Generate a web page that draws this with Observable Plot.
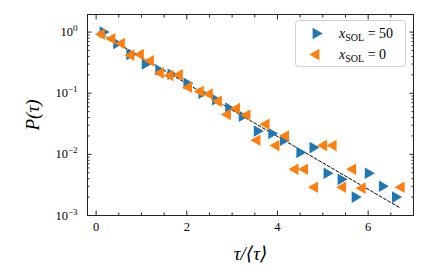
<!DOCTYPE html>
<html><head><meta charset="utf-8">
<script src="https://cdn.jsdelivr.net/npm/d3@7"></script>
<script src="https://cdn.jsdelivr.net/npm/@observablehq/plot@0.6"></script>
<style>
body{margin:0;background:#fff}
#chart{width:435px;height:269px}
#chart svg, #chart svg text {font-family: "Liberation Serif", "DejaVu Serif", serif !important;}
</style>
</head><body><div id="chart"></div>
<script>
// Data
const blueX = [0.15,0.45,0.74,1.08,1.38,1.65,2.0,2.33,2.63,2.92,3.22,3.55,3.87,4.13,4.49,4.78,5.09,5.40,5.71,6.0,6.31,6.6];
const blueP = [1.0,0.65,0.43,0.30,0.24,0.205,0.145,0.10,0.078,0.057,0.042,0.024,0.022,0.017,0.0107,0.0129,0.0049,0.0039,0.0020,0.0049,0.0030,0.0020];
const orangeX = [0.12,0.35,0.56,0.77,0.98,1.2,1.42,1.63,1.84,2.04,2.3,2.5,2.7,2.9,3.1,3.33,3.55,3.75,3.97,4.18,4.39,4.6,4.82,5.02,5.23,5.44,5.66,5.87,6.73];
const orangeP = [0.92,0.78,0.65,0.42,0.43,0.34,0.215,0.195,0.20,0.125,0.107,0.097,0.074,0.045,0.056,0.044,0.017,0.031,0.014,0.020,0.0057,0.0057,0.0029,0.014,0.014,0.0029,0.0057,0.0028,0.0029];
const fitX = [0.05, 6.69];
const fitP = [1.0, 0.00135];
const xMajorTicks = [0,2,4,6];
const xMinorTicks = [0.5,1,1.5,2.5,3,3.5,4.5,5,5.5,6.5];
const yMajorTicks = [1e-3,1e-2,1e-1,1];
const yTickExponents = ["\u22123","\u22122","\u22121","0"];
const seriesNames = ["50","0"];
const colors = ["#1f77b4","#ff7f0e"];

const blue = blueX.map((x,i)=>({x, p: blueP[i]}));
const orange = orangeX.map((x,i)=>({x, p: orangeP[i]}));
const fit = fitX.map((x,i)=>({x, p: fitP[i]}));
const yMinorTicks = [1e-3,1e-2,1e-1].flatMap(d => [2,3,4,5,6,7,8,9].map(k => k*d));

const font = "Liberation Serif, DejaVu Serif, serif";
const tickStroke = "#222";

const chart = Plot.plot({
  width: 435, height: 269,
  marginLeft: 87, marginRight: 22, marginTop: 14, marginBottom: 54,
  style: {background: "#fff", color: "#000"},
  x: {domain: [-0.19, 7.0]},
  y: {type: "log", domain: [1e-3, 1.94]},
  marks: [
    Plot.line(fit, {x: "x", y: "p", stroke: "#000", strokeWidth: 1, strokeDasharray: "3,2"}),
    Plot.dot(blue, {x: "x", y: "p", symbol: "triangle", rotate: 90, r: 4.3, fill: colors[0], stroke: "none"}),
    Plot.dot(orange, {x: "x", y: "p", symbol: "triangle", rotate: -90, r: 4.3, fill: colors[1], stroke: "none"}),
    // tick labels
    Plot.axisX(xMajorTicks, {anchor: "bottom", tickSize: 0, tickPadding: 7, fontSize: 12.5, fontFamily: font, label: null, tickFormat: d => String(d)}),
    Plot.axisY(yMajorTicks, {anchor: "left", tickSize: 0, tickPadding: 10, fontSize: 12.5, fontFamily: font, label: null, tickFormat: d => "10" + yTickExponents[yMajorTicks.indexOf(d)]}),
    // inward ticks
    Plot.axisX(xMajorTicks, {anchor: "bottom", tickSize: -4.5, fill: "none", stroke: tickStroke, label: null}),
    Plot.axisX(xMinorTicks, {anchor: "bottom", tickSize: -2.5, fill: "none", stroke: tickStroke, label: null}),
    Plot.axisX(xMajorTicks, {anchor: "top", tickSize: -4.5, fill: "none", stroke: tickStroke, label: null}),
    Plot.axisX(xMinorTicks, {anchor: "top", tickSize: -2.5, fill: "none", stroke: tickStroke, label: null}),
    Plot.axisY(yMajorTicks, {anchor: "left", tickSize: -4.5, fill: "none", stroke: tickStroke, label: null}),
    Plot.axisY(yMinorTicks, {anchor: "left", tickSize: -2.5, fill: "none", stroke: tickStroke, label: null}),
    Plot.axisY(yMajorTicks, {anchor: "right", tickSize: -4.5, fill: "none", stroke: tickStroke, label: null}),
    Plot.axisY(yMinorTicks, {anchor: "right", tickSize: -2.5, fill: "none", stroke: tickStroke, label: null}),
    Plot.frame({stroke: tickStroke, strokeWidth: 1}),
    // axis titles
    Plot.text(["\u03C4/\u27E8\u03C4\u27E9"], {frameAnchor: "bottom", dy: 38, lineAnchor: "middle", textAnchor: "middle", text: d => d, fontSize: 19, fontStyle: "italic", fontFamily: font, fill: "#000"}),
    Plot.text(["P(\u03C4)"], {frameAnchor: "left", dx: -55, rotate: -90, lineAnchor: "middle", textAnchor: "middle", text: d => d, fontSize: 19, fontStyle: "italic", fontFamily: font, fill: "#000"})
  ]
});
document.getElementById("chart").appendChild(chart);

const svg = d3.select(chart);
// superscript exponents on the y tick labels
svg.selectAll('g[aria-label="y-axis tick label"] text').each(function() {
  const s = this.textContent;
  if (!s.startsWith("10")) return;
  const el = d3.select(this);
  el.text(null);
  el.append("tspan").text("10");
  el.append("tspan").attr("font-size", 9).attr("dy", -5).text(s.slice(2));
});

// legend inside the axes, top right
const lg = svg.append("g").attr("font-family", font).attr("text-anchor", "start");
lg.append("rect").attr("x", 295.5).attr("y", 20.5).attr("width", 110).attr("height", 46)
  .attr("rx", 3).attr("fill", "#fff").attr("fill-opacity", 0.85).attr("stroke", "#d0d0d0").attr("stroke-width", 1);
seriesNames.forEach((name, i) => {
  const cy = 33.5 + i * 21;
  lg.append("path").attr("d", d3.symbol(d3.symbolTriangle, Math.PI * 4.3 * 4.3)())
    .attr("transform", `translate(316,${cy}) rotate(${i === 0 ? 90 : -90})`).attr("fill", colors[i]);
  const t = lg.append("text").attr("x", 339).attr("y", cy + 4.5).attr("font-size", 14).attr("fill", "#000");
  t.append("tspan").attr("font-style", "italic").text("x");
  t.append("tspan").attr("font-size", 10).attr("dy", 2.5).text("SOL");
  t.append("tspan").attr("dy", -2.5).text(" = " + name);
});
</script>
</body></html>
